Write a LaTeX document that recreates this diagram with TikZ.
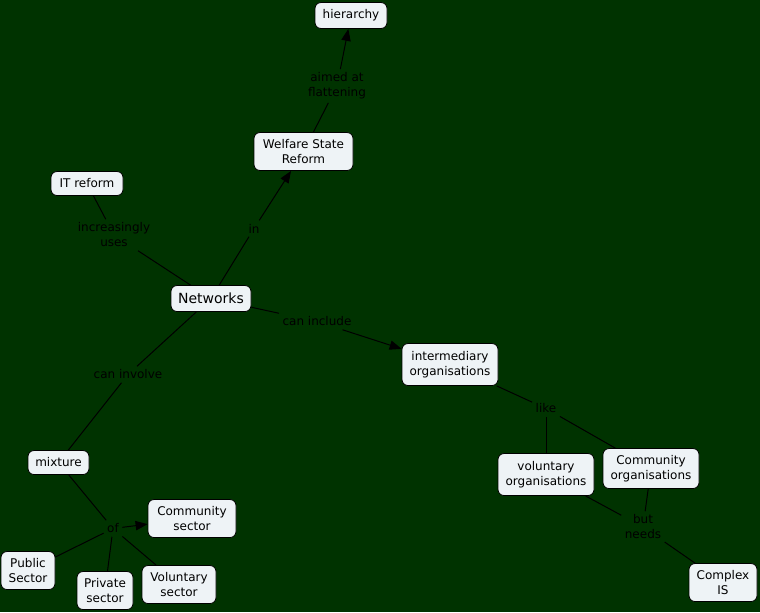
\documentclass[tikz,border=0pt]{standalone}
\usepackage{fontspec}
\setmainfont{DejaVu Sans}
\usetikzlibrary{arrows.meta}
\definecolor{bggreen}{RGB}{0,51,0}
\definecolor{nodefill}{RGB}{238,243,246}
\tikzset{
  concept/.style={draw=black, fill=nodefill, rounded corners=4.5pt, align=center,
    font=\fontsize{9}{11.25}\selectfont, inner sep=1pt, line width=0.6pt},
  lbl/.style={align=center, font=\fontsize{9}{11.25}\selectfont, text=black, inner sep=2.5pt},
  conn/.style={draw=black, line width=0.75pt},
  arr/.style={conn, -{Triangle[length=9pt,width=7pt]}},
}
\begin{document}
\begin{tikzpicture}[x=0.75pt,y=-0.75pt]
\fill[bggreen] (0,0) rectangle (760,612);
\useasboundingbox (0,0) rectangle (760,612);
% concepts
\node[concept, minimum width=54pt, minimum height=19.5pt] (hier) at (351,15.5) {hierarchy};
\node[concept, minimum width=74.25pt, minimum height=28.5pt] (welfare) at (303.5,151.5) {Welfare State\\Reform};
\node[concept, minimum width=54pt, minimum height=18pt] (it) at (87,183.5) {IT reform};
\node[concept, minimum width=60pt, minimum height=19.5pt, font=\fontsize{10.5}{12}\selectfont] (net) at (211,298.5) {Networks};
\node[concept, minimum width=72pt, minimum height=31.5pt] (inter) at (450,364.5) {intermediary\\organisations};
\node[concept, minimum width=72pt, minimum height=31.5pt] (volorg) at (546,474.5) {voluntary\\organisations};
\node[concept, minimum width=72pt, minimum height=30pt] (comorg) at (651,468.5) {Community\\organisations};
\node[concept, minimum width=51pt, minimum height=28.5pt] (cis) at (723,582.5) {Complex\\IS};
\node[concept, minimum width=45.75pt, minimum height=18pt] (mix) at (58.5,462.5) {mixture};
\node[concept, minimum width=66pt, minimum height=28.5pt] (comsec) at (192,518.5) {Community\\sector};
\node[concept, minimum width=40.5pt, minimum height=28.5pt] (pub) at (28,570.5) {Public\\Sector};
\node[concept, minimum width=42pt, minimum height=28.5pt] (priv) at (105,590.5) {Private\\sector};
\node[concept, minimum width=55.5pt, minimum height=28.5pt] (volsec) at (179,584.5) {Voluntary\\sector};
% linking phrases
\node[lbl] (aimed) at (337,86) {aimed at\\flattening};
\node[lbl] (in) at (254,228.5) {in};
\node[lbl] (incr) at (114,235) {increasingly\\uses};
\node[lbl] (caninc) at (317,321.5) {can include};
\node[lbl] (caninv) at (128,374.5) {can involve};
\node[lbl] (like) at (546,408.5) {like};
\node[lbl] (but) at (643,527) {but\\needs};
\node[lbl] (of) at (113,528.5) {of};
% connectors
\draw[conn] (welfare) -- (aimed);
\draw[arr] (aimed) -- (hier);
\draw[conn] (net) -- (in);
\draw[arr] (in) -- (welfare);
\draw[conn] (net) -- (incr);
\draw[conn] (incr) -- (it);
\draw[conn] (net) -- (caninc);
\draw[arr] (caninc) -- (inter);
\draw[conn] (net) -- (caninv);
\draw[conn] (caninv) -- (mix);
\draw[conn] (inter) -- (like);
\draw[conn] (like) -- (volorg);
\draw[conn] (like) -- (comorg);
\draw[conn] (volorg) -- (but);
\draw[conn] (comorg) -- (but);
\draw[conn] (but) -- (cis);
\draw[conn] (mix) -- (of);
\draw[arr] (of) -- (comsec);
\draw[conn] (pub) -- (of);
\draw[conn] (priv) -- (of);
\draw[conn] (volsec) -- (of);
\end{tikzpicture}
\end{document}
